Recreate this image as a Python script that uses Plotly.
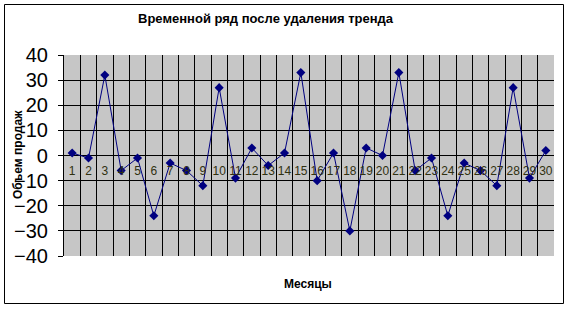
import plotly.graph_objects as go

months = [str(i) for i in range(1, 31)]
values = [1, -1, 32, -6, -1, -24, -3, -6, -12, 27,
          -9, 3, -4, 1, 33, -10, 1, -30, 3, 0,
          33, -6, -1, -24, -3, -6, -12, 27, -9, 2]
y_ticks = [-40, -30, -20, -10, 0, 10, 20, 30, 40]

title_text = "Временной ряд после удаления тренда"
y_title = "Объем продаж"
x_title = "Месяцы"

FONT = "Liberation Sans, Arial, sans-serif"
W, H = 567, 309
L, R, T, B = 64, 13, 55, 53
pw, ph = W - L - R, H - T - B

def px(x):
    return (x - L) / pw

def py(y):
    return (H - B - y) / ph

fig = go.Figure()
fig.add_trace(go.Scatter(
    x=months, y=values, mode="lines+markers",
    line=dict(color="#000080", width=1),
    marker=dict(symbol="diamond", size=7, color="#000080"),
    showlegend=False, cliponaxis=False,
))

fig.update_layout(
    width=W, height=H,
    margin=dict(l=L, r=R, t=T, b=B),
    paper_bgcolor="white",
    plot_bgcolor="#c6c6c6",
    font=dict(family=FONT, color="black"),
    xaxis=dict(
        type="category", categoryorder="array", categoryarray=months,
        range=[-0.5, 29.5],
        tickson="boundaries", showgrid=True, gridcolor="black", gridwidth=1.2,
        anchor="free", position=0.5, showline=False, zeroline=False,
        ticks="", ticklabelstandoff=6, tickangle=0,
        tickfont=dict(size=12, color="#303010", family=FONT),
    ),
    yaxis=dict(
        range=[-40, 40], tickvals=y_ticks, showgrid=True, gridcolor="black",
        gridwidth=1.2, zeroline=False, showline=True, linecolor="black",
        linewidth=1.2, ticks="outside", ticklen=5, tickcolor="black",
        ticklabelstandoff=6,
        tickfont=dict(size=20, family=FONT, color="black"),
    ),
    shapes=[
        dict(type="line", xref="paper", x0=0, x1=1, yref="y", y0=0, y1=0,
             line=dict(color="black", width=1, dash="3px,3px"), layer="between"),
        dict(type="rect", xref="paper", yref="paper",
             x0=px(4.5), x1=px(563.5), y0=py(303.5), y1=py(4.5),
             line=dict(color="black", width=1)),
    ],
    annotations=[
        dict(text=f"<b>{title_text}</b>", xref="paper", yref="paper",
             x=px(266), y=py(18), showarrow=False,
             font=dict(size=13, family=FONT), xanchor="center", yanchor="middle"),
        dict(text=f"<b>{y_title}</b>", xref="paper", yref="paper",
             x=px(18), y=py(155), showarrow=False, textangle=-90,
             font=dict(size=12, family=FONT), xanchor="center", yanchor="middle"),
        dict(text=f"<b>{x_title}</b>", xref="paper", yref="paper",
             x=px(308), y=py(284), showarrow=False,
             font=dict(size=12, family=FONT), xanchor="center", yanchor="middle"),
    ],
)

fig.write_html("out.html")
